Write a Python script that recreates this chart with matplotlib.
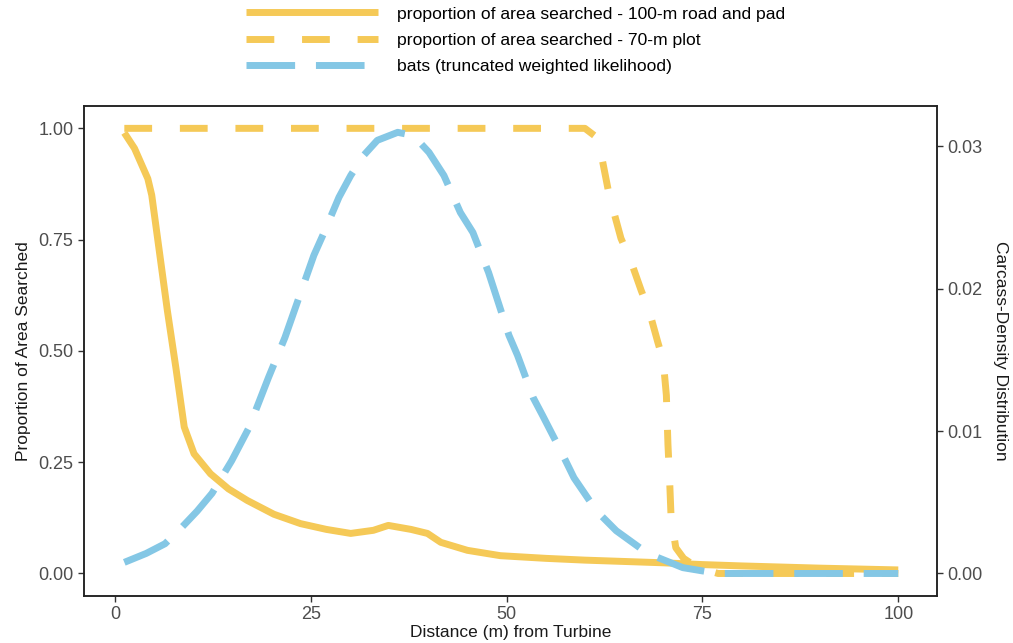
import matplotlib.pyplot as plt

plt.rcParams['font.family'] = ['Liberation Sans', 'DejaVu Sans']

# proportion of area searched - 100-m road and pad
road_x = [1.2, 2.5, 4.2, 4.7, 5.7, 6.7, 7.8, 8.85, 10.1, 12.2, 14.5, 16.9, 20.3, 23.7,
          27, 30.1, 33.0, 34.9, 37.8, 39.9, 41.6, 45.0, 49.2, 55, 60, 65, 70, 75, 80, 90, 100]
road_y = [0.99, 0.955, 0.887, 0.85, 0.72, 0.59, 0.46, 0.329, 0.269, 0.224, 0.19, 0.164, 0.133, 0.112,
          0.099, 0.090, 0.097, 0.108, 0.099, 0.090, 0.070, 0.052, 0.040, 0.034, 0.030, 0.027, 0.024,
          0.020, 0.017, 0.012, 0.008]

# proportion of area searched - 70-m plot
plot_x = [1.2, 60.0, 61.2, 62.1, 63.1, 64.6, 65.9, 67.2, 68.2, 69.3, 70.0, 70.4, 70.6, 70.8,
          71.0, 71.6, 72.6, 74.4, 77, 100]
plot_y = [1.0, 1.0, 0.984, 0.94, 0.85, 0.753, 0.70, 0.635, 0.59, 0.52, 0.478, 0.40, 0.29, 0.215,
          0.126, 0.058, 0.034, 0.013, 0.0, 0.0]

# bats (truncated weighted likelihood), carcass density
bat_x = [1.2, 4, 6.4, 8.5, 10.5, 12.4, 14.9, 17.1, 19.6, 21.7, 23.5, 25.4, 26.7, 28.6, 30.1,
         31.8, 33.5, 36.1, 38.1, 40.1, 42.0, 44.1, 45.7, 47.7, 50.3, 51.4, 53.4, 54.6, 56.9,
         58.6, 61.5, 64, 68, 72.5, 77, 85, 100]
bat_d = [0.00078, 0.00141, 0.00209, 0.00322, 0.00438, 0.00563, 0.00791, 0.01022, 0.01375,
         0.01656, 0.01938, 0.02234, 0.02394, 0.02641, 0.02794, 0.02938, 0.03041, 0.03097,
         0.03075, 0.02956, 0.02794, 0.02534, 0.02394, 0.02113, 0.01672, 0.01531, 0.01234,
         0.01109, 0.00863, 0.00672, 0.00438, 0.003, 0.00141, 0.00041, 0.0, 0.0, 0.0]

labels = ['proportion of area searched - 100-m road and pad',
          'proportion of area searched - 70-m plot',
          'bats (truncated weighted likelihood)']

yellow = '#F5C957'
blue = '#84C7E5'
scale = 0.03125  # density per unit proportion (secondary axis)

fig = plt.figure(figsize=(10.13, 6.43), dpi=100)
ax = fig.add_axes([0.0829, 0.0735, 0.8421, 0.7615])

l1, = ax.plot(road_x, road_y, color=yellow, lw=5, solid_capstyle='butt',
              solid_joinstyle='round')
l2, = ax.plot(plot_x, plot_y, color=yellow, lw=5, dashes=(4, 4))
ax.set_xlim(-3.95, 104.95)
ax.set_ylim(-0.05, 1.05)
ax.set_xticks([0, 25, 50, 75, 100])
ax.set_yticks([0, 0.25, 0.5, 0.75, 1.0])
ax.set_yticklabels(['0.00', '0.25', '0.50', '0.75', '1.00'])

ax2 = ax.twinx()
l3, = ax2.plot(bat_x, bat_d, color=blue, lw=5, dashes=(7, 3))
ax2.set_ylim(-0.05 * scale, 1.05 * scale)
ax2.set_yticks([0, 0.01, 0.02, 0.03])
ax2.set_yticklabels(['0.00', '0.01', '0.02', '0.03'])

for a in (ax, ax2):
    a.tick_params(labelsize=13, labelcolor='#4D4D4D', color='#333333', length=4, width=1)
    for s in a.spines.values():
        s.set_color('#222222')
        s.set_linewidth(1.1)

ax.set_xlabel('Distance (m) from Turbine', fontsize=12.5, color='#1A1A1A', labelpad=1)
ax.set_ylabel('Proportion of Area Searched', fontsize=12.5, color='#1A1A1A', labelpad=5)
ax2.set_ylabel('Carcass-Density Distribution', fontsize=12.5, color='#1A1A1A',
               rotation=270, labelpad=18)

fig.legend([l1, l2, l3], labels, loc='center', bbox_to_anchor=(0.509, 1 - 40 / 643),
           frameon=False, fontsize=12.6, handlelength=7.5, handletextpad=1.1,
           labelspacing=0.62)

fig.savefig('out.png', dpi=100)
